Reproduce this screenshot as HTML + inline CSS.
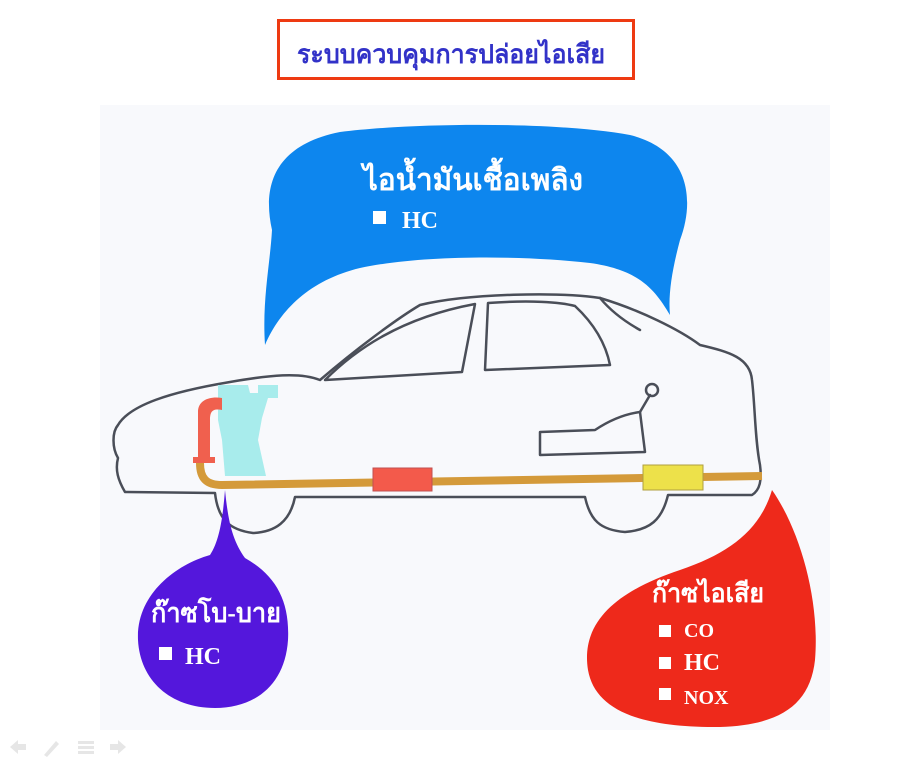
<!DOCTYPE html>
<html><head><meta charset="utf-8"><style>
html,body{margin:0;padding:0;background:#fff;}
body{width:922px;height:768px;overflow:hidden;position:relative;}
svg{position:absolute;left:0;top:0;}
text{font-family:"Liberation Serif","Noto Serif CJK SC",serif;font-weight:bold;}
</style></head><body>
<svg width="922" height="768" viewBox="0 0 922 768">
<rect x="100" y="105" width="730" height="625" fill="#f8f9fc"/>
<rect x="278.5" y="20.5" width="355" height="58" fill="#fff" stroke="#ee3a12" stroke-width="3"/>
<text x="297" y="63" font-size="26" fill="#3232c8" textLength="308" lengthAdjust="spacingAndGlyphs">ระบบควบคุมการปล่อยไอเสีย</text>

<!-- blue bubble -->
<path d="M265,345 C262,300 270,265 272,230 C262,185 275,145 340,132 C420,122 560,122 630,135 C690,150 695,200 680,240 C672,270 668,295 670,315 C655,290 640,270 590,263 C520,255 420,255 360,268 C310,280 280,310 265,345 Z" fill="#0d86ee"/>
<text x="363" y="190" font-size="30" fill="#fff" textLength="220" lengthAdjust="spacingAndGlyphs">ไอน้ำมันเชื้อเพลิง</text>
<rect x="373" y="211" width="13" height="13" fill="#fff"/>
<text x="402" y="228" font-size="24" fill="#fff">HC</text>

<!-- car -->
<g fill="none" stroke="#4a4e58" stroke-width="2.5" stroke-linejoin="round" stroke-linecap="round">
<path d="M125,492 C118,480 115,470 118,458 C112,448 112,432 118,425 C130,405 170,392 230,382 C270,375 300,372 320,380 C355,350 395,320 420,305 C470,293 560,292 600,298 C640,310 680,330 700,345 C730,352 750,358 752,380 C755,405 755,440 760,465 C762,480 760,490 752,495 L668,495 C662,520 650,530 625,532 C600,530 590,520 585,497 L295,497 C290,522 275,532 253,533 C230,530 218,520 215,493 Z"/>
<path d="M325,380 C355,350 400,318 475,304 L462,372 Z"/>
<path d="M488,303 C530,300 560,302 575,306 C590,320 605,340 610,365 L485,370 Z"/>
<path d="M540,432 L595,430 C610,420 625,414 640,412 L645,452 L540,455 Z"/>
<path d="M640,412 L650,395"/>
<circle cx="652" cy="390" r="6"/>
<path d="M600,298 C610,310 622,320 640,330"/>
</g>
<!-- engine -->
<path d="M218,385 L248,385 L250,393 L258,393 L258,385 L278,385 L278,398 L268,398 L262,418 L258,440 L266,476 L225,476 L222,440 L218,420 Z" fill="#a8ecec"/>
<!-- red pipe -->
<path d="M198,462 L198,412 C198,400 210,396 222,398 L222,410 C212,408 210,412 210,420 L210,462 Z" fill="#f0604e"/>
<rect x="193" y="457" width="22" height="6" fill="#f0604e"/>
<!-- exhaust pipe -->
<path d="M200,463 C200,478 206,485 222,485 L762,476" fill="none" stroke="#d49a3a" stroke-width="8"/>
<rect x="373" y="468" width="59" height="23" fill="#f35a4b" stroke="#c05050" stroke-width="1"/>
<rect x="643" y="465" width="60" height="25" fill="#ede14a" stroke="#b0a040" stroke-width="1"/>

<!-- purple bubble -->
<path d="M225,490 C228,520 232,540 245,558 C275,575 290,600 288,640 C285,685 255,708 215,708 C170,708 140,680 138,640 C136,595 175,565 210,555 C220,540 223,515 225,490 Z" fill="#5417dc"/>
<text x="151" y="622" font-size="27" fill="#fff" textLength="130" lengthAdjust="spacingAndGlyphs">ก๊าซโบ-บาย</text>
<rect x="159" y="647" width="13" height="13" fill="#fff"/>
<text x="185" y="664" font-size="24" fill="#fff">HC</text>

<!-- red bubble -->
<path d="M772,490 C800,530 820,600 815,660 C810,705 780,725 720,727 C640,728 595,710 588,670 C580,620 620,590 680,570 C730,553 760,530 772,490 Z" fill="#ee291b"/>
<text x="652" y="602" font-size="26" fill="#fff" textLength="112" lengthAdjust="spacingAndGlyphs">ก๊าซไอเสีย</text>
<rect x="659" y="625" width="12" height="12" fill="#fff"/>
<text x="684" y="637" font-size="20" fill="#fff">CO</text>
<rect x="659" y="657" width="12" height="12" fill="#fff"/>
<text x="684" y="670" font-size="24" fill="#fff">HC</text>
<rect x="659" y="688" width="12" height="12" fill="#fff"/>
<text x="684" y="704" font-size="20" fill="#fff">NOX</text>

<!-- nav icons -->
<g fill="#e6e6e6">
<path d="M10,747 L18,740 L18,744 L26,744 L26,750 L18,750 L18,754 Z"/>
<path d="M44,755 L56,741 L59,744 L47,757 Z"/>
<rect x="78" y="741" width="16" height="3"/><rect x="78" y="746" width="16" height="3"/><rect x="78" y="751" width="16" height="3"/>
<path d="M126,747 L118,740 L118,744 L110,744 L110,750 L118,750 L118,754 Z"/>
</g>
</svg>
</body></html>
